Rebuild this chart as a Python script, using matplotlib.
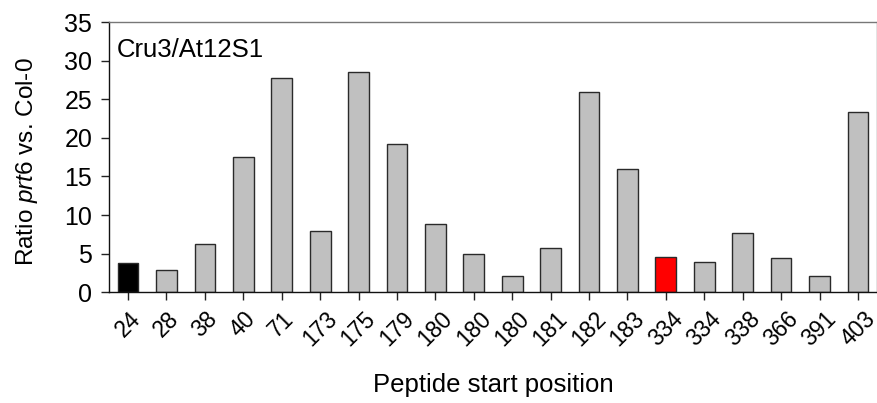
import matplotlib
matplotlib.use("Agg")
import matplotlib.pyplot as plt

positions = ["24", "28", "38", "40", "71", "173", "175", "179", "180", "180",
             "180", "181", "182", "183", "334", "334", "338", "366", "391", "403"]
ratios = [3.8, 2.9, 6.3, 17.5, 27.8, 7.9, 28.5, 19.2, 8.9, 5.0,
          2.1, 5.7, 26.0, 16.0, 4.5, 3.9, 7.7, 4.4, 2.1, 23.3]
bar_colors = ["#000000"] + ["#c0c0c0"] * 13 + ["#ff0000"] + ["#c0c0c0"] * 5
yticks = [0, 5, 10, 15, 20, 25, 30, 35]

plt.rcParams['font.family'] = ['Liberation Sans', 'DejaVu Sans']
plt.rcParams['mathtext.fontset'] = 'custom'
plt.rcParams['mathtext.rm'] = 'Liberation Sans'
plt.rcParams['mathtext.it'] = 'Liberation Sans:italic'

fig = plt.figure(figsize=(8.78, 4.03), dpi=100)
ax = fig.add_axes([0.124, 0.275, 0.875, 0.670])
x = list(range(len(positions)))
ax.bar(x, ratios, width=0.54, color=bar_colors, edgecolor="#2a2a2a", linewidth=1.0)
ax.set_xlim(-0.5, len(positions) - 0.5)
ax.set_ylim(0, 35)
ax.set_yticks(yticks)
ax.set_yticklabels([str(t) for t in yticks], fontsize=18)
ax.set_xticks(x)
ax.set_xticklabels(positions, rotation=45, ha="center", va="top", fontsize=16.5)
ax.tick_params(axis="both", direction="out", length=6, width=1, color="#222222")
ax.tick_params(axis="x", pad=5)
ax.tick_params(axis="y", pad=6)
for s in ["left", "bottom"]:
    ax.spines[s].set_color("#111111")
    ax.spines[s].set_linewidth(1.0)
for s in ["top", "right"]:
    ax.spines[s].set_color("#777777")
    ax.spines[s].set_linewidth(1.0)
ax.set_ylabel(r"Ratio $\it{prt6}$ vs. Col-0", fontsize=17.5)
ax.yaxis.set_label_coords(-0.089, 0.485)
ax.set_xlabel("Peptide start position", fontsize=18.5, labelpad=16)
ax.text(0.01, 0.94, "Cru3/At12S1", transform=ax.transAxes, fontsize=18.5,
        ha="left", va="top")
fig.savefig("out.png", dpi=100)
